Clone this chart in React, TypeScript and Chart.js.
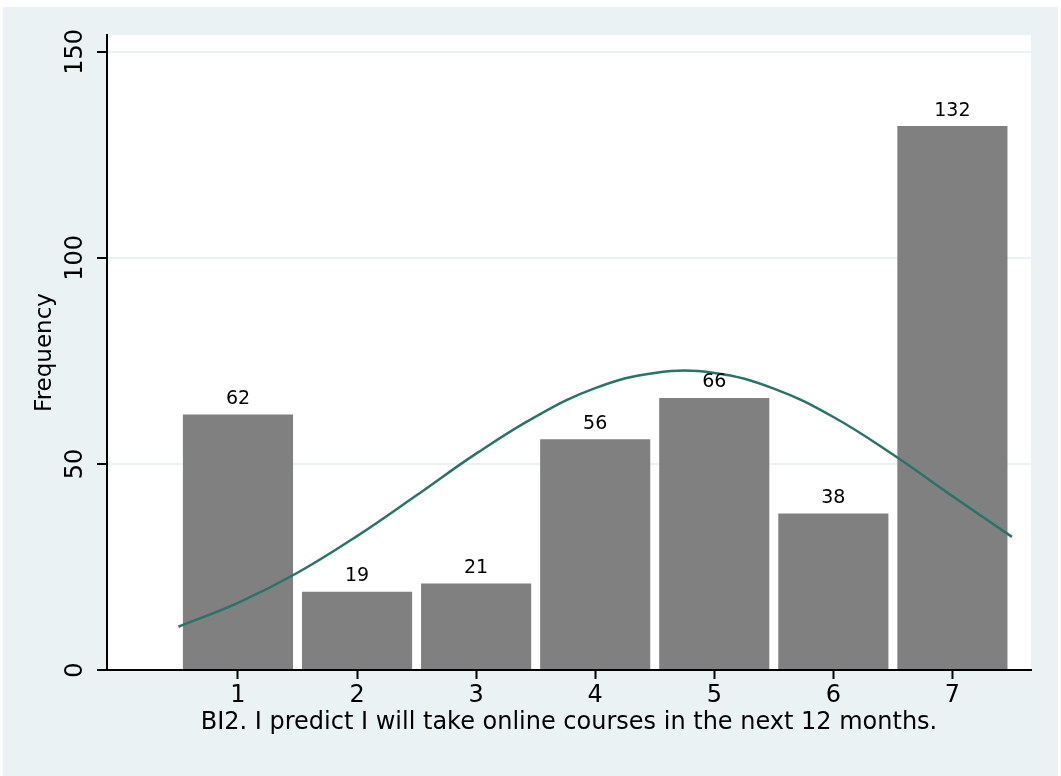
import React, { useEffect, useRef } from "react";
import { Chart, registerables } from "chart.js";

Chart.register(...registerables);

const categories = [1, 2, 3, 4, 5, 6, 7];
const frequencies = [62, 19, 21, 56, 66, 38, 132];
const curveX = [0.5, 1, 1.5, 2, 2.5, 3, 3.5, 4, 4.5, 5, 5.5, 6, 6.5, 7, 7.5];
const curveY = [10.5, 16.3, 23.6, 32.5, 42.4, 52.5, 61.5, 68.4, 72.1, 72.1, 68.3, 61.4, 52.3, 42.2, 32.3];
const yTicks = [0, 50, 100, 150];
const xTitle = "BI2. I predict I will take online courses in the next 12 months.";
const yTitle = "Frequency";

const FONT = "'DejaVu Sans', Verdana, sans-serif";
const BG = "#EAF2F3";

const bgPlugin = {
  id: "bgPlugin",
  beforeDraw(chart: any) {
    const { ctx, width, height, chartArea } = chart;
    ctx.save();
    ctx.fillStyle = "#ffffff";
    ctx.fillRect(0, 0, width, height);
    ctx.fillStyle = BG;
    ctx.fillRect(3, 7, width - 6, height - 7);
    ctx.fillStyle = "#ffffff";
    ctx.fillRect(chartArea.left, chartArea.top, chartArea.right - chartArea.left, chartArea.bottom - chartArea.top);
    ctx.restore();
  },
};

const labelPlugin = {
  id: "labelPlugin",
  afterDatasetsDraw(chart: any) {
    const { ctx } = chart;
    const meta = chart.getDatasetMeta(1);
    ctx.save();
    ctx.fillStyle = "#000000";
    ctx.font = `19px ${FONT}`;
    ctx.textAlign = "center";
    ctx.textBaseline = "bottom";
    meta.data.forEach((bar: any, i: number) => {
      ctx.fillText(String(frequencies[i]), bar.x, bar.y - 6);
    });
    ctx.restore();
  },
};

export default function App() {
  const ref = useRef<HTMLCanvasElement>(null);
  useEffect(() => {
    const chart = new Chart(ref.current as HTMLCanvasElement, {
      type: "bar",
      data: {
        datasets: [
          {
            type: "line",
            data: curveX.map((x, i) => ({ x, y: curveY[i] })),
            borderColor: "#2A7368",
            borderWidth: 2.5,
            pointRadius: 0,
            tension: 0.4,
            fill: false,
            order: 0,
          } as any,
          {
            type: "bar",
            data: categories.map((c, i) => ({ x: c, y: frequencies[i] })),
            backgroundColor: "#808080",
            borderWidth: 0,
            barPercentage: 0.925,
            categoryPercentage: 1,
            order: 1,
          } as any,
        ],
      },
      options: {
        animation: false,
        responsive: false,
        devicePixelRatio: 1,
        layout: { padding: { top: 35, right: 30, bottom: 0, left: 0 } },
        plugins: { legend: { display: false }, tooltip: { enabled: false } },
        scales: {
          x: {
            type: "linear",
            min: -0.1,
            max: 7.66,
            offset: false,
            afterBuildTicks: (s: any) => {
              s.ticks = categories.map((v) => ({ value: v }));
            },
            afterFit: (s: any) => {
              s.height = 106;
            },
            grid: {
              offset: false,
              drawOnChartArea: false,
              drawTicks: true,
              tickLength: 9,
              tickColor: "#000000",
              tickWidth: 2,
            },
            border: { display: true, color: "#000000", width: 2 },
            ticks: {
              color: "#000000",
              font: { family: FONT, size: 24 },
              padding: 2,
              maxRotation: 0,
              autoSkip: false,
            },
            title: {
              display: true,
              text: xTitle,
              color: "#000000",
              font: { family: FONT, size: 24 },
              padding: { top: 0, bottom: 39 },
            },
          },
          y: {
            type: "linear",
            min: 0,
            max: 154.1,
            afterBuildTicks: (s: any) => {
              s.ticks = yTicks.map((v) => ({ value: v }));
            },
            afterFit: (s: any) => {
              s.width = 107;
            },
            grid: {
              color: (c: any) => (c.tick && c.tick.value === 0 ? "rgba(0,0,0,0)" : BG),
              lineWidth: 2,
              drawTicks: true,
              tickLength: 10,
              tickColor: "#000000",
              tickWidth: 2,
            },
            border: { display: true, color: "#000000", width: 2 },
            ticks: {
              color: "#000000",
              font: { family: FONT, size: 24 },
              minRotation: 90,
              maxRotation: 90,
              crossAlign: "center",
              padding: -2,
            },
            title: {
              display: true,
              text: yTitle,
              color: "#000000",
              font: { family: FONT, size: 23 },
              padding: { top: 31, bottom: 0 },
            },
          },
        },
      } as any,
      plugins: [bgPlugin, labelPlugin],
    });
    return () => chart.destroy();
  }, []);
  return (
    <div style={{ position: "fixed", left: 0, top: 0, width: 1061, height: 776 }}>
      <canvas ref={ref} width={1061} height={776} style={{ display: "block" }} />
    </div>
  );
}
